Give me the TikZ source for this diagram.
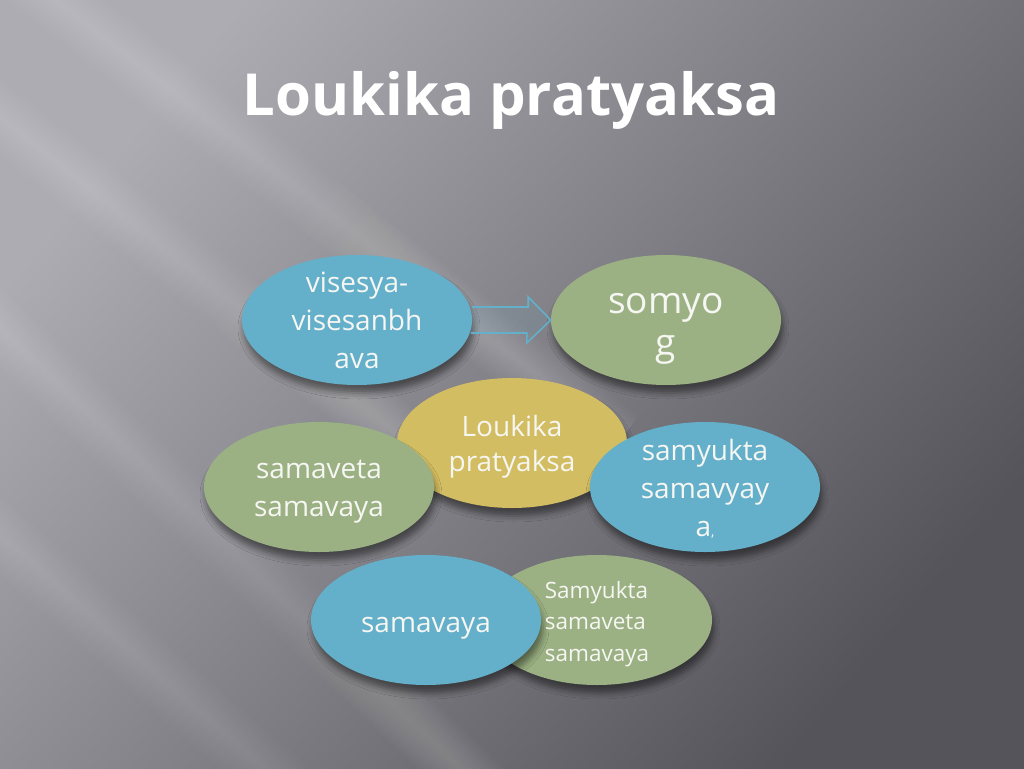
\documentclass[tikz,border=0pt]{standalone}
\usepackage{fontspec}
\setmainfont{Open Sans}
\usetikzlibrary{calc,shapes.geometric,shadows.blur}

\definecolor{ellblue}{RGB}{100,176,202}
\definecolor{ellgreen}{RGB}{155,177,131}
\definecolor{ellyellow}{RGB}{211,189,98}
\definecolor{txtwhite}{RGB}{246,246,242}
\definecolor{bglight}{RGB}{172,172,178}
\definecolor{bgdark}{RGB}{84,84,90}

\tikzset{
	bubble/.style={ellipse, minimum width=230pt, minimum height=130pt, inner sep=0pt,
		blur shadow={shadow xshift=2pt, shadow yshift=-8pt, shadow blur radius=6pt, shadow opacity=45}},
	bubbletxt/.style={align=center, text=txtwhite, font=\fontsize{28}{38}\selectfont},
	smalltxt/.style={align=left, text=txtwhite, font=\fontsize{22.5}{31.5}\selectfont},
	hollowarrow/.style={draw=ellblue, line width=1.6pt, fill=ellblue, fill opacity=0.12, line join=miter}
}

\begin{document}
\begin{tikzpicture}[x=1pt, y=-1pt]
		%background
		\useasboundingbox (0,0) rectangle (1024,768);
		\begin{scope}
		\clip (0,0) rectangle (1024,768);
		\shade[top color=bglight, bottom color=bgdark, shading angle=50] (0,0) rectangle (1024,768);
		\foreach \w in {6,12,...,60}{
			\draw[white, opacity=0.018, line width=\w pt] (-60,-90) -- (620,440);
			\draw[white, opacity=0.018, line width=\w pt] (-40,85) -- (430,460);
			\draw[white, opacity=0.015, line width=\w pt] (-40,290) -- (640,940);
			\draw[white, opacity=0.012, line width=\w pt] (-40,500) -- (300,800);
		}
		\end{scope}
		
		%title
		\node[anchor=base, text=white, font=\bfseries\fontsize{58}{66}\selectfont] (title) at (511,115) {Loukika pratyaksa};
		
		%bubbles
		\node[bubble, fill=ellyellow] (lou) at (512,443) {};
		\node[bubble, fill=ellblue] (vis) at (357,320) {};
		\node[bubble, fill=ellgreen] (som) at (666,320) {};
		\node[bubble, fill=ellgreen] (smv) at (319,487) {};
		\node[bubble, fill=ellblue] (smy) at (705,487) {};
		\node[bubble, fill=ellgreen] (ssv) at (597,620) {};
		\node[bubble, fill=ellblue] (sam) at (426,620) {};
		
		%texts
		\node[bubbletxt, font=\fontsize{28}{35}\selectfont] (loutxt) at ($(lou)+(0,4)$) {Loukika\\pratyaksa};
		\node[bubbletxt] (vistxt) at (vis) {visesya-\\visesanbh\\ava};
		\node[bubbletxt, font=\fontsize{37}{42}\selectfont] (somtxt) at ($(som)+(0,6)$) {\vphantom{L}somyo\\g};
		\node[bubbletxt] (smvtxt) at ($(smv)+(0,5)$) {samaveta\\samavaya};
		\node[bubbletxt] (smytxt) at ($(smy)+(0,2)$) {samyukta\\samavyay\\a{\fontsize{14}{14}\selectfont,}};
		\node[bubbletxt] (samtxt) at ($(sam)+(0,8)$) {samavaya};
		\node[smalltxt] (ssvtxt) at ($(ssv)+(0,4)$) {Samyukta\\samaveta\\samavaya};
		
		%arrow
		\draw[hollowarrow] ($(vis.east)+(0,-13)$) -- ++(56,0) -- ++(0,-10) -- (som.west) -- ++(-24,23) -- ++(0,-10) -- ++(-56,0);
		\end{tikzpicture}
\end{document}
